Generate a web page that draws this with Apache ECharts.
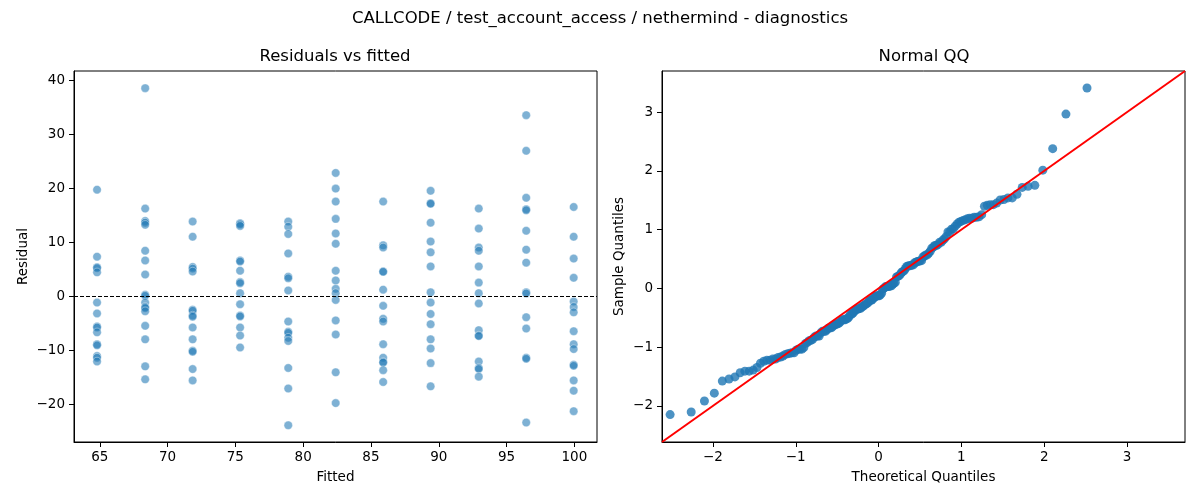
<!DOCTYPE html>
<html>
<head>
<meta charset="utf-8">
<title>diagnostics</title>
<script src="https://cdn.jsdelivr.net/npm/echarts@6/dist/echarts.min.js"></script>
<style>
  html, body { margin: 0; padding: 0; background: #fff; }
  #main { width: 1200px; height: 500px; }
</style>
</head>
<body>
<div id="main"></div>
<script>
// fitted value of each column of points
var fitted = [64.8, 68.35, 71.85, 75.35, 78.9, 82.4, 85.9, 89.4, 92.95, 96.45, 99.95];

// residuals per fitted column
var res1 = [19.7, 7.3, 5.35, 5.2, 4.4, -1.2, -3.2, -5.6, -5.8, -6.7, -8.9, -9.1, -11.1, -11.4, -12.1];
var res2 = [38.5, 16.2, 13.9, 13.6, 13.2, 8.4, 6.6, 4.0, 0.25, 0.06, -1.2, -2.0, -2.2, -2.8, -5.5, -8.0, -13.0, -15.4];
var res3 = [13.8, 11.0, 5.4, 5.1, 4.55, -2.5, -2.7, -3.6, -3.8, -5.8, -8.0, -10.1, -10.3, -13.5, -15.6];
var res4 = [13.5, 13.3, 13.0, 6.6, 6.4, 4.7, 2.6, 2.4, 0.55, -1.5, -3.6, -3.75, -5.8, -7.3, -9.5];
var res5 = [13.8, 12.85, 11.5, 7.9, 3.6, 3.3, 1.05, -4.7, -6.6, -6.8, -7.7, -8.3, -13.3, -17.1, -23.9];
var res6 = [22.8, 19.9, 17.5, 14.3, 11.6, 9.7, 4.7, 2.9, 1.35, 0.55, -0.7, -4.5, -7.1, -14.1, -19.8];
var res7 = [17.5, 9.4, 9.0, 4.55, 4.5, 1.2, -1.8, -4.2, -4.7, -8.9, -11.4, -12.2, -12.3, -13.7, -15.9];
var res8 = [19.5, 17.2, 17.1, 13.6, 10.1, 8.1, 5.5, 0.7, -1.2, -3.3, -5.2, -8.0, -9.7, -12.4, -16.7];
var res9 = [16.2, 12.5, 9.0, 8.4, 5.5, 2.5, 0.55, -1.35, -6.3, -7.3, -7.4, -12.1, -13.3, -13.5, -14.9];
var res10 = [33.5, 26.9, 18.2, 16.1, 15.9, 12.1, 8.6, 6.2, 0.7, 0.5, -3.9, -6.0, -11.4, -11.6, -23.4];
var res11 = [16.5, 11.0, 6.95, 3.4, -1.0, -2.0, -3.0, -6.5, -8.9, -9.8, -12.7, -12.9, -15.6, -17.5, -21.3];

// tick labels
var fittedTicks = [65, 70, 75, 80, 85, 90, 95, 100];
var residTicks = [-20, -10, 0, 10, 20, 30, 40];
var qqTicks = [-2, -1, 0, 1, 2, 3];

// axis ranges as in the picture
var fittedLim = [63.1, 101.67];
var residLim = [-27.0, 41.67];
var qqLim = [-2.615, 3.70];

(function(){
  'use strict';

  var allRes = [res1, res2, res3, res4, res5, res6, res7, res8, res9, res10, res11];

  // scatter points for residuals vs fitted
  var rvf = [];
  allRes.forEach(function(col, i){
    col.forEach(function(r){ rvf.push([fitted[i], r]); });
  });

  // inverse normal cdf (Acklam)
  function ppf(p){
    var a = [-3.969683028665376e+01, 2.209460984245205e+02, -2.759285104469687e+02, 1.383577518672690e+02, -3.066479806614716e+01, 2.506628277459239e+00];
    var b = [-5.447609879822406e+01, 1.615858368580409e+02, -1.556989798598866e+02, 6.680131188771972e+01, -1.328068155288572e+01];
    var c = [-7.784894002430293e-03, -3.223964580411365e-01, -2.400758277161838e+00, -2.549671680829174e+00, 4.374664141464968e+00, 2.938163982698783e+00];
    var d = [7.784695709041462e-03, 3.224671290700398e-01, 2.445134137142996e+00, 3.754408661907416e+00];
    var pl = 0.02425, q, r;
    if (p < pl) {
      q = Math.sqrt(-2 * Math.log(p));
      return (((((c[0]*q+c[1])*q+c[2])*q+c[3])*q+c[4])*q+c[5]) / ((((d[0]*q+d[1])*q+d[2])*q+d[3])*q+1);
    }
    if (p > 1 - pl) {
      q = Math.sqrt(-2 * Math.log(1 - p));
      return -(((((c[0]*q+c[1])*q+c[2])*q+c[3])*q+c[4])*q+c[5]) / ((((d[0]*q+d[1])*q+d[2])*q+d[3])*q+1);
    }
    q = p - 0.5; r = q * q;
    return (((((a[0]*r+a[1])*r+a[2])*r+a[3])*r+a[4])*r+a[5])*q / (((((b[0]*r+b[1])*r+b[2])*r+b[3])*r+b[4])*r+1);
  }

  // normal QQ points: standardized sorted residuals vs theoretical quantiles
  var flat = rvf.map(function(p){ return p[1]; }).sort(function(x, y){ return x - y; });
  var n = flat.length;
  var mean = flat.reduce(function(s, v){ return s + v; }, 0) / n;
  var sd = Math.sqrt(flat.reduce(function(s, v){ return s + (v - mean) * (v - mean); }, 0) / n);
  var qq = flat.map(function(v, i){ return [ppf((i + 1) / (n + 1)), (v - mean) / sd]; });

  function minus(v){ return String(v).replace('-', '\u2212'); }

  var font = 'DejaVu Sans';
  var tickLabel = { color: '#000', fontFamily: font, fontSize: 13.5, formatter: minus };
  var titleStyle = { fontFamily: font, fontSize: 16.5, fontWeight: 'normal', color: '#000' };

  function axis(gridIndex, lim, ticks, name, gap, vertical){
    return {
      type: 'value', gridIndex: gridIndex, min: lim[0], max: lim[1],
      name: name, nameLocation: 'middle', nameGap: gap,
      nameTextStyle: { color: '#000', fontFamily: font, fontSize: 13.5 },
      splitLine: { show: false },
      axisLine: { show: true, onZero: false, lineStyle: { color: '#000', width: 1 } },
      axisTick: { show: true, customValues: ticks, length: 5, lineStyle: { color: '#000' } },
      axisLabel: Object.assign({ customValues: ticks, margin: vertical ? 9 : 8 }, tickLabel)
    };
  }

  var myChart = echarts.init(document.getElementById('main'), null, { renderer: 'canvas' });

  var option = {
    animation: false,
    backgroundColor: '#fff',
    title: [
      { text: 'CALLCODE / test_account_access / nethermind - diagnostics', left: 600, top: 10, padding: 0, textAlign: 'center', textStyle: titleStyle },
      { text: 'Residuals vs fitted', left: 335, top: 48, padding: 0, textAlign: 'center', textStyle: titleStyle },
      { text: 'Normal QQ', left: 924, top: 48, padding: 0, textAlign: 'center', textStyle: titleStyle }
    ],
    grid: [
      { left: 74, top: 71, width: 523, height: 371, show: true, borderColor: '#000', borderWidth: 1, backgroundColor: 'transparent' },
      { left: 662, top: 71, width: 523, height: 371, show: true, borderColor: '#000', borderWidth: 1, backgroundColor: 'transparent' }
    ],
    xAxis: [
      axis(0, fittedLim, fittedTicks, 'Fitted', 28, false),
      axis(1, qqLim, qqTicks, 'Theoretical Quantiles', 28, false)
    ],
    yAxis: [
      axis(0, residLim, residTicks, 'Residual', 44, true),
      axis(1, qqLim, qqTicks, 'Sample Quantiles', 36, true)
    ],
    series: [
      {
        name: 'resid', type: 'scatter', xAxisIndex: 0, yAxisIndex: 0,
        data: rvf, symbolSize: 8.5,
        itemStyle: { color: 'rgba(31,119,180,0.72)', borderColor: 'rgba(255,255,255,0.8)', borderWidth: 0.6 },
        markLine: {
          silent: true, symbol: 'none', label: { show: false },
          lineStyle: { color: '#000', type: [4, 2], width: 1 },
          data: [{ yAxis: 0 }]
        }
      },
      {
        name: 'qq', type: 'scatter', xAxisIndex: 1, yAxisIndex: 1,
        data: qq, symbolSize: 9,
        itemStyle: { color: '#1f77b4' }
      },
      {
        name: '45', type: 'line', xAxisIndex: 1, yAxisIndex: 1,
        data: [[qqLim[0], qqLim[0]], [qqLim[1], qqLim[1]]],
        symbol: 'none', lineStyle: { color: '#ff0000', width: 2 }
      }
    ]
  };

  myChart.setOption(option);
}());
</script>
</body>
</html>
